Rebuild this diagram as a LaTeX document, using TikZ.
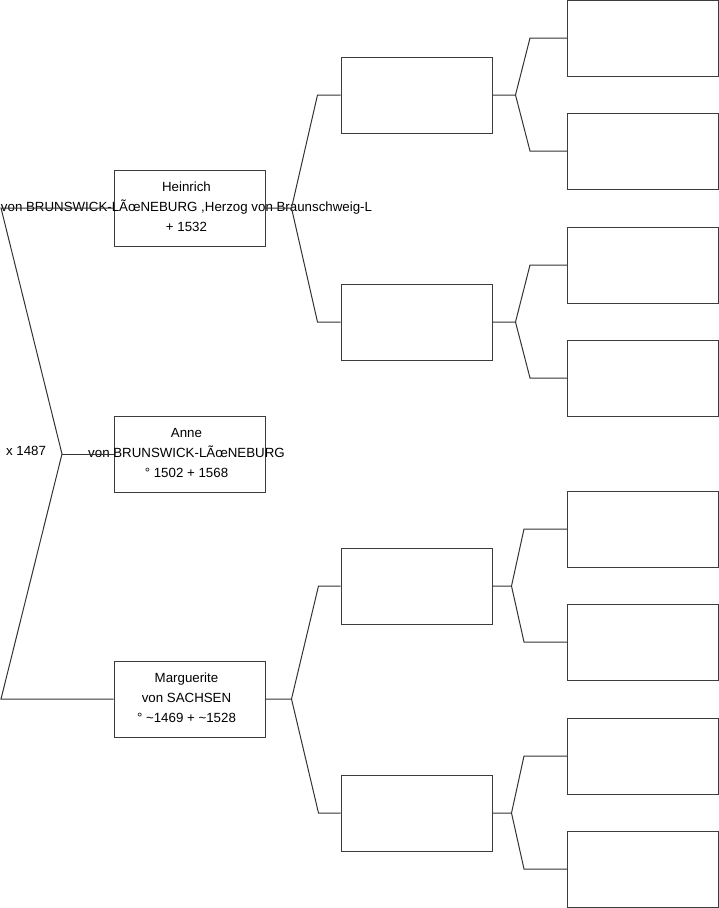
\documentclass[tikz,border=0pt]{standalone}
\usepackage{fontspec}
\setmainfont{Liberation Sans}
\usepackage{tikz}
\usetikzlibrary{positioning,calc}
\definecolor{TreeLine}{HTML}{333333}
\definecolor{BoxLine}{HTML}{3c3c3c}

\tikzset{
  pbox/.style={draw=BoxLine, line width=1pt, minimum width=151pt, minimum height=76pt, inner sep=0pt},
  ptext/.style={draw=none, align=center, inner sep=0pt, font=\fontsize{13.3}{20}\selectfont},
  link/.style={draw=TreeLine, line width=1pt}
}

\begin{document}
\begin{tikzpicture}[x=1pt,y=-1pt]
  \useasboundingbox (0,0) rectangle (719,908);
  % persons
  \node[pbox] (heinrich) at (189.5,208) {};
  \node[pbox] (anne) at (189.5,454) {};
  \node[pbox] (marg) at (189.5,699) {};
  % grandparents and great-grandparents
  \foreach \i/\y in {1/95, 2/322, 3/586, 4/813}{
    \node[pbox] (g\i) at (416.5,\y) {};
  }
  \foreach \i/\y in {1/38, 2/151, 3/265, 4/378, 5/529, 6/642, 7/756, 8/869}{
    \node[pbox] (gg\i) at (643,\y) {};
  }
  % texts
  \node[ptext] at ($(heinrich)+(-3,-1)$) {Heinrich\\von BRUNSWICK-LÃœNEBURG ,Herzog von Braunschweig-L\\+ 1532};
  \node[ptext] at ($(anne)+(-3,-1)$) {Anne\\von BRUNSWICK-LÃœNEBURG\\° 1502 + 1568};
  \node[ptext] at ($(marg)+(-3,-1)$) {Marguerite\\von SACHSEN\\° \textasciitilde1469 + \textasciitilde1528};
  \node[ptext] (union) at (26,451) {x 1487};
  % left fork
  \coordinate (cT) at (1,208);
  \coordinate (cM) at (62,454);
  \coordinate (cB) at (1,699);
  \draw[link] (heinrich.west) -- (cT) -- (cM) -- (cB) -- (marg.west);
  \draw[link] (cM) -- (anne.west);
  % parent forks
  \coordinate (vH) at ([xshift=26pt]heinrich.east);
  \coordinate (vM) at ([xshift=26pt]marg.east);
  \draw[link] (g1.west) -- ([xshift=-23pt]g1.west) -- (vH) -- (heinrich.east);
  \draw[link] (vH) -- ([xshift=-23pt]g2.west) -- (g2.west);
  \draw[link] (g3.west) -- ([xshift=-22pt]g3.west) -- (vM) -- (marg.east);
  \draw[link] (vM) -- ([xshift=-22pt]g4.west) -- (g4.west);
  % grandparent forks
  \foreach \g/\a/\b/\v/\t in {1/1/2/23/37, 2/3/4/23/37, 3/5/6/19/43, 4/7/8/19/43}{
    \coordinate (v\g) at ([xshift=\v pt]g\g.east);
    \draw[link] (g\g.east) -- (v\g) -- ([xshift=-\t pt]gg\a.west) -- (gg\a.west);
    \draw[link] (v\g) -- ([xshift=-\t pt]gg\b.west) -- (gg\b.west);
  }
\end{tikzpicture}
\end{document}
